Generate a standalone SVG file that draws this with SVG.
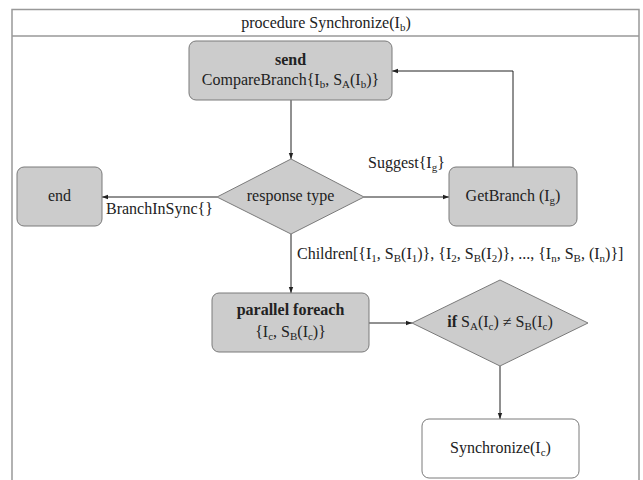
<svg xmlns="http://www.w3.org/2000/svg" width="643" height="480" viewBox="0 0 643 480">
<style>
text{font-family:'Liberation Serif','Times New Roman','DejaVu Serif',serif;font-size:16px;fill:#222}
.c{text-anchor:middle}
.b{font-weight:bold}
.s{font-size:11px}
.node{fill:#cccccc;stroke:#7a7a7a;stroke-width:1}
.white{fill:#ffffff;stroke:#7a7a7a;stroke-width:1}
.frame{fill:none;stroke:#999;stroke-width:1.5}
.conn{fill:none;stroke:#222;stroke-width:1}
</style>
<defs>
<marker id="ah" viewBox="0 0 6 6" refX="6" refY="3" markerWidth="6" markerHeight="6" markerUnits="userSpaceOnUse" orient="auto">
<path d="M0,0.8 L6,3 L0,5.2 Z" fill="#222"/>
</marker>
</defs>
<g id="frame">
<rect class="frame" x="12" y="9.5" width="627" height="480"/>
<line class="frame" x1="12" y1="36" x2="639" y2="36"/>
<text class="c" x="326" y="28">procedure Synchronize(I<tspan class="s" dy="3">b</tspan><tspan dy="-3">)</tspan></text>
</g>
<g id="connectors">
<line class="conn" x1="291" y1="100" x2="291" y2="159" marker-end="url(#ah)"/>
<line class="conn" x1="217" y1="197" x2="102" y2="197" marker-end="url(#ah)"/>
<line class="conn" x1="364" y1="197" x2="449" y2="197" marker-end="url(#ah)"/>
<polyline class="conn" points="513,167 513,71 392,71" marker-end="url(#ah)"/>
<line class="conn" x1="291" y1="234" x2="291" y2="293" marker-end="url(#ah)"/>
<line class="conn" x1="369" y1="323" x2="412" y2="323" marker-end="url(#ah)"/>
<line class="conn" x1="500" y1="366" x2="500" y2="419" marker-end="url(#ah)"/>
<text x="106" y="214">BranchInSync{}</text>
<text x="368" y="168">Suggest{I<tspan class="s" dy="3">g</tspan><tspan dy="-3">}</tspan></text>
<text x="297" y="259">Children[{I<tspan class="s" dy="3">1</tspan><tspan dy="-3">, S</tspan><tspan class="s" dy="3">B</tspan><tspan dy="-3">(I</tspan><tspan class="s" dy="3">1</tspan><tspan dy="-3">)}, {I</tspan><tspan class="s" dy="3">2</tspan><tspan dy="-3">, S</tspan><tspan class="s" dy="3">B</tspan><tspan dy="-3">(I</tspan><tspan class="s" dy="3">2</tspan><tspan dy="-3">)}, ..., {I</tspan><tspan class="s" dy="3">n</tspan><tspan dy="-3">, S</tspan><tspan class="s" dy="3">B</tspan><tspan dy="-3">, (I</tspan><tspan class="s" dy="3">n</tspan><tspan dy="-3">)}]</tspan></text>
</g>
<g id="send">
<rect class="node" x="189" y="41" width="203" height="59" rx="7"/>
<text class="c b" x="290.5" y="65">send</text>
<text class="c" x="290.5" y="85">CompareBranch{I<tspan class="s" dy="3">b</tspan><tspan dy="-3">, S</tspan><tspan class="s" dy="3">A</tspan><tspan dy="-3">(I</tspan><tspan class="s" dy="3">b</tspan><tspan dy="-3">)}</tspan></text>
</g>
<g id="response">
<polygon class="node" points="291,159 364,197 291,234 217,197"/>
<text class="c" x="290.5" y="201">response type</text>
</g>
<g id="end">
<rect class="node" x="17" y="167" width="85" height="59" rx="7"/>
<text class="c" x="59.5" y="201">end</text>
</g>
<g id="getbranch">
<rect class="node" x="449" y="167" width="128" height="59" rx="7"/>
<text class="c" x="513" y="201">GetBranch (I<tspan class="s" dy="3">g</tspan><tspan dy="-3">)</tspan></text>
</g>
<g id="foreach">
<rect class="node" x="212" y="293" width="157" height="59" rx="7"/>
<text class="c b" x="290.5" y="315">parallel foreach</text>
<text class="c" x="290.5" y="337">{I<tspan class="s" dy="3">c</tspan><tspan dy="-3">, S</tspan><tspan class="s" dy="3">B</tspan><tspan dy="-3">(I</tspan><tspan class="s" dy="3">c</tspan><tspan dy="-3">)}</tspan></text>
</g>
<g id="ifdiamond">
<polygon class="node" points="500,280 588,323 500,366 412,323"/>
<text class="c" x="500" y="327"><tspan class="b">if</tspan> S<tspan class="s" dy="3">A</tspan><tspan dy="-3">(I</tspan><tspan class="s" dy="3">c</tspan><tspan dy="-3">) ≠ S</tspan><tspan class="s" dy="3">B</tspan><tspan dy="-3">(I</tspan><tspan class="s" dy="3">c</tspan><tspan dy="-3">)</tspan></text>
</g>
<g id="sync">
<rect class="white" x="422" y="419" width="157" height="59" rx="7"/>
<text class="c" x="500.5" y="453">Synchronize(I<tspan class="s" dy="3">c</tspan><tspan dy="-3">)</tspan></text>
</g>
</svg>
